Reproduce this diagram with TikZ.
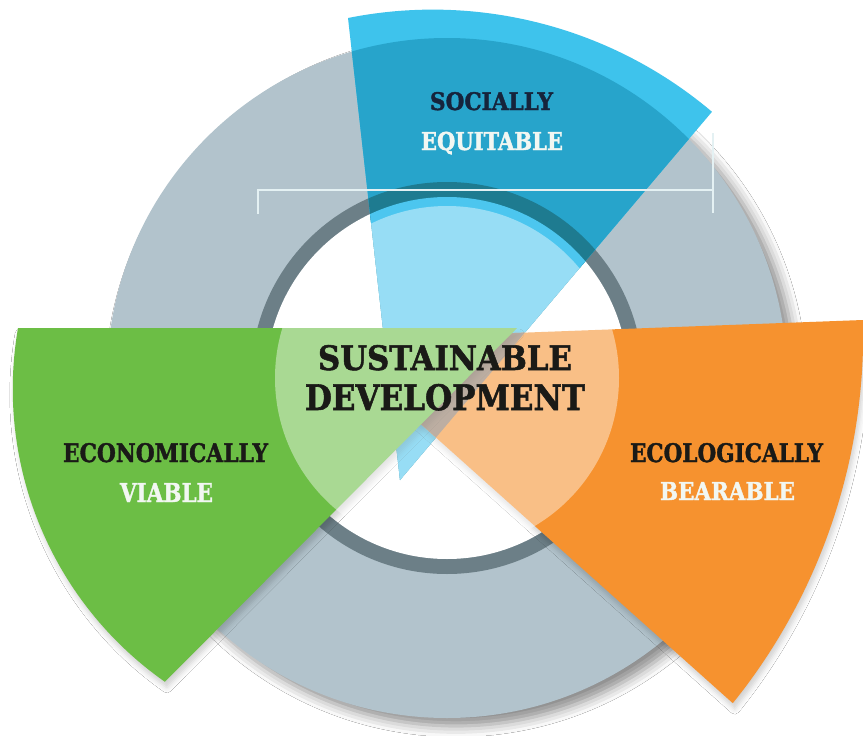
\documentclass[tikz,border=0pt]{standalone}
\usepackage{fontspec}
\usepackage{graphicx}
\usetikzlibrary{shadows.blur}
\newfontfamily\slab[BoldFeatures={FakeBold=1.6}]{DejaVu Serif}
\definecolor{ringgrey}{HTML}{B2C3CC}
\definecolor{ringdark}{HTML}{6C7F87}
\definecolor{blueout}{HTML}{3EC3EC}
\definecolor{blueover}{HTML}{27A4CB}
\definecolor{bluedark}{HTML}{1E7B90}
\definecolor{bluein}{HTML}{4CC6EF}
\definecolor{greenw}{HTML}{6CBE45}
\definecolor{orangew}{HTML}{F6922F}
\definecolor{mixbo}{HTML}{8E7560}
\definecolor{navy}{HTML}{16243C}
\definecolor{ink}{HTML}{1A1A17}
\definecolor{paleline}{HTML}{E4F1F3}
\definecolor{paletext}{HTML}{F2F7F2}
\newcommand{\fitt}[3]{\resizebox{#1pt}{#2pt}{\slab\bfseries #3}}
\def\bluepath{(400,480) -- (348,18) arc[start angle=-101.3, end angle=-49.8, radius=432.6] -- cycle}
\def\greenpath{(517,328) -- (18,328) arc[start angle=189.8, end angle=125.1, radius=358] -- cycle}
\def\orangepath{(327,340) -- (863,320) arc[start angle=-1.36, end angle=38.9, radius=588] -- cycle}
\begin{document}
\begin{tikzpicture}[x=1pt,y=-1pt,
  lab/.style={anchor=base, inner sep=0pt},
  bracket/.style={draw=paleline, line width=2.6pt},
  wedgeshadow/.style={blur shadow={shadow xshift=2pt, shadow yshift=-6pt, shadow blur radius=5pt, shadow opacity=18}}]
\useasboundingbox (0,0) rectangle (863,736);
\fill[white] (0,0) rectangle (863,736);
\coordinate (C) at (447,378);
% grey ring with drop shadow
\fill[ringgrey, blur shadow={shadow xshift=9pt, shadow yshift=-8pt, shadow blur radius=11pt, shadow opacity=45}] (C) circle[radius=340];
\fill[ringdark] (C) circle[radius=196];
\fill[white] (C) circle[radius=181];
% blue wedge (translucent look)
\begin{scope}
  \clip \bluepath;
  \fill[blueout] (0,0) rectangle (863,736);
  \fill[blueover] (C) circle[radius=340];
  \fill[bluedark] (C) circle[radius=196];
  \fill[bluein] (C) circle[radius=181];
\end{scope}
% orange wedge
\path[fill=orangew, wedgeshadow] \orangepath;
\begin{scope}
  \clip \bluepath;
  \fill[mixbo] \orangepath;
\end{scope}
% green wedge
\path[fill=greenw, wedgeshadow] \greenpath;
% light centre overlay
\fill[white, opacity=0.42] (C) circle[radius=172];
% bracket line
\coordinate (bl) at (258,214);
\coordinate (bL) at (258,190);
\coordinate (bR) at (713,190);
\coordinate (bt) at (713,133);
\coordinate (bb) at (713,213);
\draw[bracket] (bl) -- (bL) -- (bR);
\draw[bracket] (bt) -- (bb);
% labels
\node[lab, text=navy] (soc) at (491.5,110) {\fitt{123}{18}{SOCIALLY}};
\node[lab, text=paletext] (equ) at (492,150) {\fitt{142}{18.3}{EQUITABLE}};
\node[lab, text=ink] (sus) at (445,370) {\fitt{254}{25}{SUSTAINABLE}};
\node[lab, text=ink] (dev) at (445,410) {\fitt{280}{26}{DEVELOPMENT}};
\node[lab, text=ink] (eco) at (165.5,462) {\fitt{205}{19}{ECONOMICALLY}};
\node[lab, text=paletext] (via) at (166.5,502) {\fitt{93}{19}{VIABLE}};
\node[lab, text=ink] (ecl) at (726.5,462) {\fitt{193}{19}{ECOLOGICALLY}};
\node[lab, text=paletext] (bea) at (727.5,500) {\fitt{135}{18}{BEARABLE}};
\end{tikzpicture}
\end{document}
